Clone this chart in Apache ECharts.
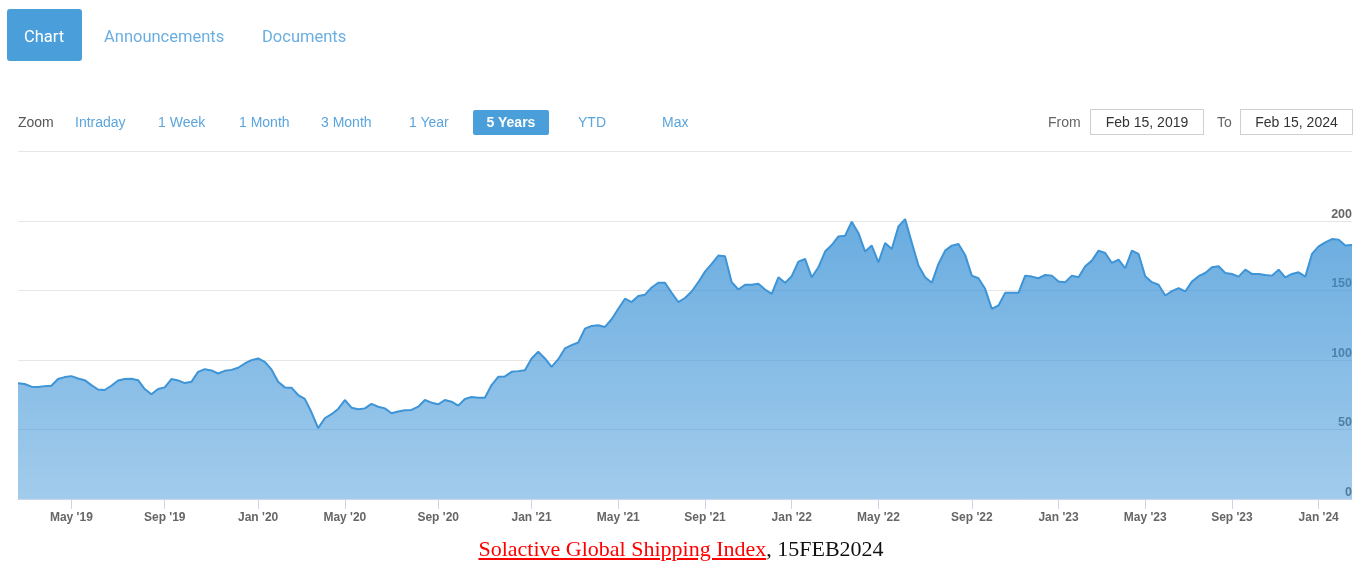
<!DOCTYPE html>
<html lang="en">
  <head>
    <meta charset="utf-8" />
    <title>Solactive Global Shipping Index</title>
    <script src="https://cdn.jsdelivr.net/npm/echarts@6/dist/echarts.min.js"></script>
    <style>
      html, body { margin: 0; padding: 0; background: #fff; }
      #chart { position: absolute; left: 0; top: 0; width: 1362px; height: 563px; }
      .ov { position: absolute; white-space: nowrap; z-index: 2; }
      .tab { font-family: Roboto, sans-serif; font-size: 16.5px; line-height: 24px; top: 25px; color: #6aaee2; }
      .zoom { font-family: "Liberation Sans", Arial, sans-serif; font-size: 14px; line-height: 20px; top: 112px; color: #5aa5dd; }
      .box { position: absolute; z-index: 2; border: 1px solid #cfcfcf; box-sizing: border-box; height: 26px; top: 109px;
             font-family: "Liberation Sans", Arial, sans-serif; font-size: 14px; line-height: 24px; color: #333; text-align: center; }
      .caption { left: 0; width: 1362px; top: 535px; text-align: center; font-family: "Liberation Serif", "DejaVu Serif", serif;
                 font-size: 22px; line-height: 28px; color: #111; }
      .caption a { color: #ff0000; text-decoration: underline; }
    </style>
  </head>
  <body>
    <div id="chart"></div>

    <div class="ov" style="left:7px;top:9px;width:75px;height:52px;background:#4a9fdb;border-radius:3px;"></div>
    <div class="ov tab" style="left:24px;color:#fff;">Chart</div>
    <div class="ov tab" style="left:104px;">Announcements</div>
    <div class="ov tab" style="left:262px;">Documents</div>

    <div class="ov zoom" style="left:18px;color:#555;">Zoom</div>
    <div class="ov zoom" style="left:75px;">Intraday</div>
    <div class="ov zoom" style="left:158px;">1 Week</div>
    <div class="ov zoom" style="left:239px;">1 Month</div>
    <div class="ov zoom" style="left:321px;">3 Month</div>
    <div class="ov zoom" style="left:409px;">1 Year</div>
    <div class="ov" style="left:473px;top:110px;width:76px;height:25px;background:#4a9fdb;border-radius:2px;"></div>
    <div class="ov zoom" style="left:473px;width:76px;text-align:center;color:#fff;font-weight:bold;">5 Years</div>
    <div class="ov zoom" style="left:578px;">YTD</div>
    <div class="ov zoom" style="left:662px;">Max</div>

    <div class="ov zoom" style="left:1048px;color:#666;">From</div>
    <div class="box" style="left:1090px;width:114px;">Feb 15, 2019</div>
    <div class="ov zoom" style="left:1217px;color:#666;">To</div>
    <div class="box" style="left:1240px;width:113px;">Feb 15, 2024</div>
    <div class="ov" style="left:18px;top:151px;width:1334px;height:1px;background:#e6e6e6;"></div>

    <div class="ov caption"><a>Solactive Global Shipping Index</a>, 15FEB2024</div>

    <script>
      // index level, Feb 2019 .. Feb 2024, sampled evenly along the chart
      var indexValues = [
        83.2, 82.7, 80.8, 80.5, 81.2, 81.5, 86.3, 87.7, 88.4, 86.7, 85.5, 81.9, 78.8, 78.4, 81.5, 85.3, 86.3,
        86.5, 85.5, 79.1, 75.3, 79.1, 80.3, 86.3, 85.3, 83.4, 84.3, 91.5, 93.4, 92.5, 90.3, 92.2, 92.9, 94.4,
        97.5, 99.9, 101.1, 98.7, 93.2, 84.4, 80.3, 80.1, 74.8, 72.0, 62.4, 51.0, 58.1, 61.0, 64.8, 71.2, 65.7,
        64.5, 65.2, 68.4, 66.4, 65.2, 61.7, 62.9, 63.8, 64.1, 66.4, 71.2, 69.3, 68.1, 71.2, 70.0, 67.2, 72.0,
        73.4, 72.9, 72.9, 82.0, 87.9, 88.2, 91.5, 92.0, 92.7, 101.1, 105.9, 101.1, 95.1, 100.6, 108.3, 110.7,
        112.6, 122.6, 124.5, 125.0, 123.8, 129.3, 136.9, 144.1, 141.7, 146.0, 147.0, 152.2, 155.6, 155.6,
        148.4, 141.7, 144.6,
        149.3, 156.0, 163.6, 169.1, 175.1, 174.6, 156.0, 150.7, 154.1, 154.1, 154.8, 150.7, 147.6, 159.5,
        155.5, 160.3, 170.8, 172.7, 159.5, 166.7, 178.0, 182.7, 188.9, 189.4, 199.5, 191.4, 178.0, 182.3,
        170.3, 184.2, 179.9, 196.1, 201.4, 184.6,
        167.9, 159.5, 155.5, 169.1, 178.7, 182.3, 183.4, 175.6, 160.7, 158.8, 151.2, 136.8, 139.2, 148.3,
        148.3, 148.3, 160.7, 160.0, 158.8, 161.2, 160.7, 156.4, 156.0, 160.7, 159.5, 167.4, 171.5, 178.7,
        177.0, 169.8, 172.2, 166.0, 178.7, 176.3,
        160.3, 156.0, 154.1, 146.4, 149.5, 151.7, 149.3, 156.4, 160.3, 162.6, 166.7, 167.4, 162.6, 161.9,
        160.0, 165.0, 161.9, 161.9, 161.2, 160.7, 165.0, 159.5, 161.9, 163.1, 160.0, 176.3, 181.8, 184.6,
        187.0, 186.6, 182.3, 182.7
      ]
      // which samples carry a month label
      var tickIndex = [8, 22, 36, 49, 63, 77, 90, 103, 116, 129, 143, 156, 169, 182, 195]
      var tickLabels = ["May '19", "Sep '19", "Jan '20", "May '20", "Sep '20", "Jan '21", "May '21", "Sep '21",
                        "Jan '22", "May '22", "Sep '22", "Jan '23", "May '23", "Sep '23", "Jan '24"]
      var yTicks = [0, 50, 100, 150, 200]

      var categories = indexValues.map(function (v, i) { return String(i) })
      var isTick = function (i) { return tickIndex.indexOf(i) >= 0 }

      var chart = echarts.init(document.getElementById('chart'))
      chart.setOption({
        animation: false,
        grid: { left: 18, right: 10, top: 221, bottom: 64 },
        xAxis: {
          type: 'category',
          data: categories,
          boundaryGap: false,
          axisLine: { lineStyle: { color: '#ccd6eb' } },
          axisTick: { show: true, length: 10, interval: isTick, lineStyle: { color: '#ccd6eb' } },
          axisLabel: {
            interval: isTick,
            margin: 13,
            color: '#666',
            fontFamily: 'Liberation Sans, Arial, sans-serif',
            fontSize: 12,
            fontWeight: 'bold',
            formatter: function (val, i) { return tickLabels[tickIndex.indexOf(i)] }
          },
          splitLine: { show: false }
        },
        yAxis: {
          type: 'value',
          position: 'right',
          min: yTicks[0],
          max: yTicks[yTicks.length - 1],
          interval: 50,
          axisLine: { show: false },
          axisTick: { show: false },
          axisLabel: {
            inside: true,
            margin: 0,
            verticalAlign: 'bottom',
            color: '#666',
            fontFamily: 'Liberation Sans, Arial, sans-serif',
            fontSize: 12.5,
            fontWeight: 'bold'
          },
          splitLine: { lineStyle: { color: '#e6e6e6' } }
        },
        series: [{
          type: 'line',
          data: indexValues,
          clip: false,
          symbol: 'none',
          lineStyle: { color: '#3d94d7', width: 2 },
          areaStyle: {
            opacity: 1,
            color: new echarts.graphic.LinearGradient(0, 0, 0, 1, [
              { offset: 0, color: 'rgba(58,146,214,0.76)' },
              { offset: 1, color: 'rgba(58,146,214,0.47)' }
            ])
          }
        }]
      })
    </script>
  </body>
</html>
